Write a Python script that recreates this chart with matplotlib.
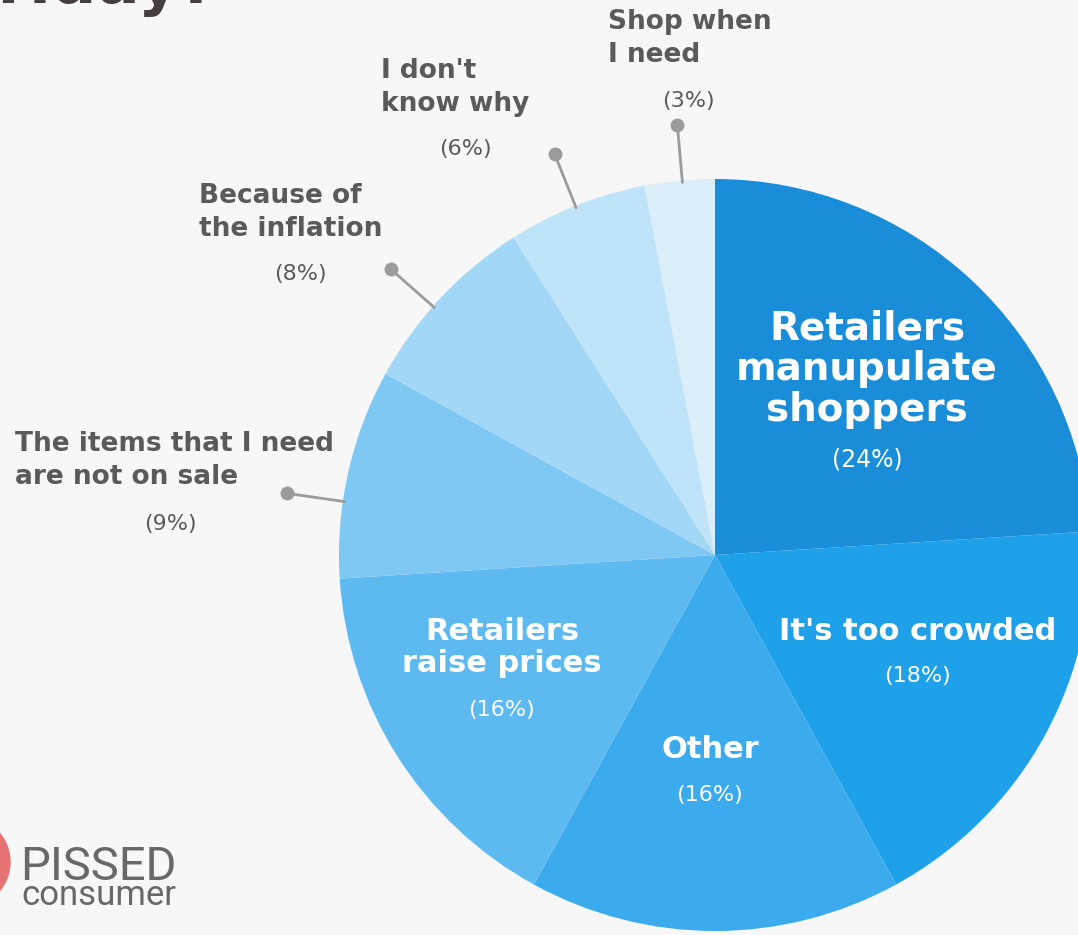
import matplotlib
matplotlib.use("Agg")
import matplotlib.pyplot as plt
import numpy as np

# Survey answers, in clockwise order from 12 o'clock
categories = [
    "Retailers\nmanupulate\nshoppers",
    "It's too crowded",
    "Other",
    "Retailers\nraise prices",
    "The items that I need\nare not on sale",
    "Because of\nthe inflation",
    "I don't\nknow why",
    "Shop when\nI need",
]
shares = [24, 18, 16, 16, 9, 8, 6, 3]
colors = ["#1a8dd8", "#1fa1ea", "#3babee", "#5cbaf1",
          "#80c8f4", "#a2d7f6", "#bfe3f8", "#dbeffb"]

W, H = 1078, 935
BG = "#f7f7f7"
fig = plt.figure(figsize=(W / 100, H / 100), dpi=100, facecolor=BG)
ax = fig.add_axes([0, 0, 1, 1])

cx, cy, R = 715, H - 555, 376
ax.pie(shares, colors=colors, startangle=90, counterclock=False,
       center=(cx, cy), radius=R, frame=True,
       wedgeprops=dict(linewidth=0))
ax.set_xlim(0, W)
ax.set_ylim(0, H)
ax.set_aspect("equal")
ax.axis("off")

BOLD = "DejaVu Sans"
THIN = "DejaVu Sans"
GREY = "#5a5a5a"


def y(py):
    return H - py


# labels inside the pie: (x, y of first line, line spacing, size, percent y, percent size)
inside = {
    0: (867, 328, 41, 28, 459, 17),
    1: (918, 631, 0, 22, 676, 16),
    2: (710, 749, 0, 22, 795, 16),
    3: (502, 631, 33, 22, 710, 16),
}
for i, (x, y0, dy, fs, yp, fsp) in inside.items():
    for k, line in enumerate(categories[i].split("\n")):
        ax.text(x, y(y0 + k * dy), line, ha="center", va="center",
                color="white", fontsize=fs, fontweight="bold", family=BOLD)
    ax.text(x, y(yp), f"({shares[i]}%)", ha="center", va="center",
            color="white", fontsize=fsp, fontweight="normal", family=THIN)

# labels outside the pie with a leader line and dot
# (left x, y of first line, percent centre x, percent y, leader angle)
outside = {
    4: (15, 444, 170, 524, 171.8),
    5: (199, 196, 300, 274, 138.6),
    6: (381, 71, 465, 149, 111.8),
    7: (608, 22, 688, 101, 95.0),
}
for i, (x, y0, xp, yp, ang) in outside.items():
    for k, line in enumerate(categories[i].split("\n")):
        ax.text(x, y(y0 + k * 33), line, ha="left", va="center",
                color=GREY, fontsize=19, fontweight="bold", family=BOLD)
    ax.text(xp, y(yp), f"({shares[i]}%)", ha="center", va="center",
            color=GREY, fontsize=16, fontweight="normal", family=THIN)
    a = np.deg2rad(ang)
    r_dot = 432
    ax.plot([cx + r_dot * np.cos(a), cx + (R - 2) * np.cos(a)],
            [cy + r_dot * np.sin(a), cy + (R - 2) * np.sin(a)],
            color="#9b9b9b", lw=2, solid_capstyle="round", zorder=1)
    ax.plot(cx + r_dot * np.cos(a), cy + r_dot * np.sin(a), "o",
            color="#9b9b9b", ms=10, mec="none", zorder=2)

# heading, running off the top edge
ax.text(217, y(3), "Friday?", ha="right", va="baseline",
        color="#473f3f", fontsize=46, fontweight="bold", family=BOLD)

# logo
ax.add_patch(plt.Circle((-35, y(862)), 45, color="#e57373", zorder=3))
ax.text(20, y(880), "PISSED", ha="left", va="baseline", color="#686868",
        fontsize=34, family="Roboto")
ax.text(21, y(905), "consumer", ha="left", va="baseline", color="#686868",
        fontsize=25, family="Roboto")

fig.savefig("out.png", dpi=100, facecolor=BG)
